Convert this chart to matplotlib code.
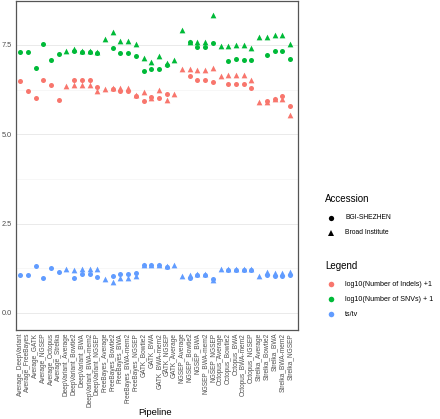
import numpy as np
import matplotlib
matplotlib.use("Agg")
import matplotlib.pyplot as plt
from matplotlib.lines import Line2D

plt.rcParams['font.family'] = ['Liberation Sans', 'DejaVu Sans']

nan = np.nan
pipelines = [
    "Average_DeepVariant", "Average_FreeBayes", "Average_GATK", "Average_NGSEP",
    "Average_Octopus", "Average_Strelka", "DeepVariant_Average", "DeepVariant_Bowtie2",
    "DeepVariant_BWA", "DeepVariant_BWA-mem2", "DeepVariant_NGSEP", "FreeBayes_Average",
    "FreeBayes_Bowtie2", "FreeBayes_BWA", "FreeBayes_BWA-mem2", "FreeBayes_NGSEP",
    "GATK_Bowtie2", "GATK_BWA", "GATK_BWA-mem2", "GATK_NGSEP", "GATK_Average",
    "NGSEP_Average", "NGSEP_Bowtie2", "NGSEP_BWA", "NGSEP_BWA-mem2", "NGSEP_NGSEP",
    "Octopus_Average", "Octopus_Bowtie2", "Octopus_BWA", "Octopus_BWA-mem2", "Octopus_NGSEP",
    "Strelka_Average", "Strelka_Bowtie2", "Strelka_BWA", "Strelka_BWA-mem2", "Strelka_NGSEP",
]

# log10(Number of Indels) + 1
indels_bgi = [6.48, 6.20, 6.03, 6.53, 6.39, 5.95, nan, 6.53, 6.52, 6.52, 6.32, nan,
              6.27, 6.21, 6.21, 6.06, 5.94, 6.04, 6.02, 6.12, nan,
              nan, 6.63, 6.51, 6.51, 6.46, nan, 6.41, 6.42, 6.42, 6.30,
              nan, 5.93, 6.00, 6.08, 5.78]
indels_broad = [nan, nan, nan, nan, nan, nan, 6.36, 6.39, 6.39, 6.39, 6.20, 6.26,
                6.30, 6.29, 6.29, 6.10, 6.18, 6.02, 6.24, 5.97, 6.13,
                6.83, 6.83, 6.80, 6.80, 6.85, 6.63, 6.67, 6.67, 6.67, 6.52,
                5.90, 5.91, 5.98, 5.98, 5.54]
# log10(Number of SNVs) + 1
snvs_bgi = [7.31, 7.30, 6.85, 7.52, 7.08, 7.24, nan, 7.34, 7.30, 7.30, 7.28, nan,
            7.41, 7.28, 7.28, 7.19, 6.77, 6.84, 6.84, 6.95, nan,
            nan, 7.57, 7.44, 7.44, 7.56, nan, 7.06, 7.10, 7.09, 7.07,
            nan, 7.23, 7.33, 7.33, 7.12]
snvs_broad = [nan, nan, nan, nan, nan, nan, 7.32, 7.38, 7.33, 7.33, 7.31, 7.67,
              7.85, 7.60, 7.60, 7.52, 7.14, 7.02, 7.19, 6.99, 7.08,
              7.93, 7.59, 7.59, 7.59, 8.34, 7.47, 7.47, 7.50, 7.50, 7.42,
              7.72, 7.72, 7.79, 7.79, 7.53]
# ts/tv
tstv_bgi = [1.06, 1.07, 1.32, 0.99, 1.25, 1.14, nan, 0.99, 1.10, 1.10, 1.02, nan,
            1.03, 1.09, 1.09, 1.11, 1.33, 1.33, 1.33, 1.30, nan,
            nan, 0.98, 1.06, 1.06, 0.96, nan, 1.20, 1.20, 1.20, 1.21,
            nan, 1.05, 1.04, 1.04, 1.07]
tstv_broad = [nan, nan, nan, nan, nan, nan, 1.23, 1.21, 1.23, 1.23, 1.23, 0.95,
              0.88, 0.97, 0.97, 1.03, 1.33, 1.33, 1.33, 1.32, 1.33,
              1.03, 1.07, 1.10, 1.10, 0.93, 1.22, 1.22, 1.22, 1.22, 1.24,
              1.03, 1.15, 1.13, 1.13, 1.16]

accessions = ["BGI-SHEZHEN", "Broad Institute"]
metrics = ["log10(Number of Indels) +1", "log10(Number of SNVs) + 1", "ts/tv"]
colors = ["#F8766D", "#00BA38", "#619CFF"]
markers = ["o", "^"]

W, H = 440, 419
fig = plt.figure(figsize=(W / 100, H / 100), dpi=100)
ax = fig.add_axes([16 / W, 1 - 330 / H, (298 - 16) / W, 329.5 / H])

x = np.arange(len(pipelines))
series = [(indels_bgi, indels_broad), (snvs_bgi, snvs_broad), (tstv_bgi, tstv_broad)]
for (bgi, broad), c in zip(series, colors):
    ax.scatter(x, bgi, marker="o", s=13, color=c, linewidths=0, zorder=3)
    ax.scatter(x, broad, marker="^", s=17, color=c, linewidths=0, zorder=3)

ax.set_xlim(-0.55, 36.05)
ax.set_ylim(-0.476, 8.745)
ax.set_yticks([0.0, 2.5, 5.0, 7.5])
ax.set_yticklabels(["0.0", "2.5", "5.0", "7.5"])
ax.set_yticks([1.25, 3.75, 6.25], minor=True)
ax.set_xticks(x)
ax.set_xticklabels(pipelines, rotation=90, ha="center", va="top")
ax.tick_params(axis="both", which="both", length=0, colors="#4D4D4D")
ax.tick_params(axis="x", labelsize=4.7, pad=2)
ax.tick_params(axis="y", labelsize=5.3, pad=3)
ax.grid(axis="y", which="major", color="#E6E6E6", linewidth=0.6, zorder=0)
ax.grid(axis="y", which="minor", color="#F2F2F2", linewidth=0.4, zorder=0)
ax.set_axisbelow(True)
for s in ax.spines.values():
    s.set_color("#555555")
    s.set_linewidth(0.9)

fig.text(155 / W, 1 - 412 / H, "Pipeline", ha="center", va="center", fontsize=6.8)

# legends (drawn on an overlay in pixel layout coordinates)
lax = fig.add_axes([0, 0, 1, 1])
lax.set_xlim(0, W)
lax.set_ylim(H, 0)
lax.axis("off")
lax.text(325, 199, "Accession", fontsize=7, va="center", ha="left")
for k, (lab, m) in enumerate(zip(accessions, markers)):
    yy = 217.5 + k * 15.3
    lax.add_line(Line2D([331], [yy], marker=m, color="black", markersize=3.8 if m == "o" else 4.4,
                        linestyle="none", markeredgewidth=0))
    lax.text(345, yy, lab, fontsize=4.9, va="center", ha="left")
lax.text(325, 266, "Legend", fontsize=7, va="center", ha="left")
for k, (lab, c) in enumerate(zip(metrics, colors)):
    yy = 284 + k * 15
    lax.add_line(Line2D([331], [yy], marker="o", color=c, markersize=4.0,
                        linestyle="none", markeredgewidth=0))
    lax.text(345, yy, lab, fontsize=5.1, va="center", ha="left")

fig.savefig("out.png", dpi=100)
